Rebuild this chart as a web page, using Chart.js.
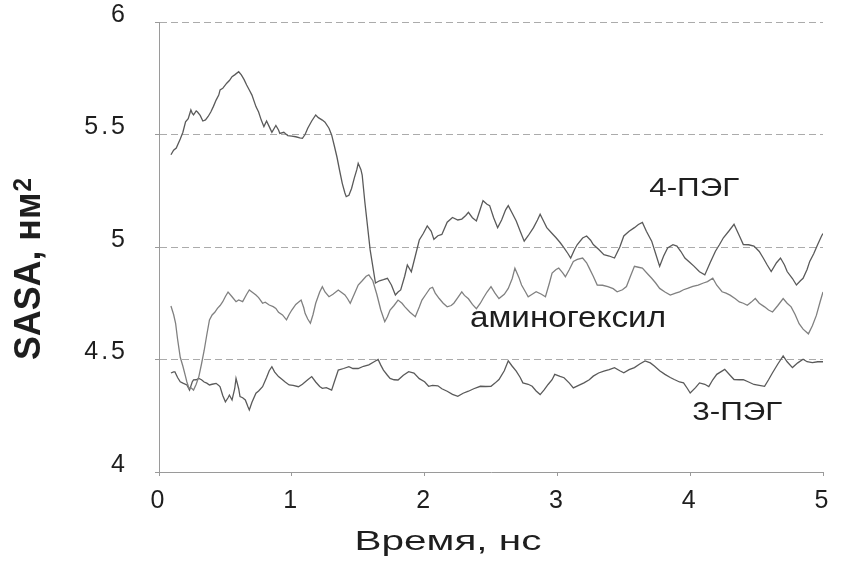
<!DOCTYPE html>
<html>
<head>
<meta charset="utf-8">
<script src="https://cdn.jsdelivr.net/npm/chart.js@4.4.1/dist/chart.umd.min.js"></script>
<style>
  html, body { margin: 0; padding: 0; background: #fff; }
  canvas { display: block; }
</style>
</head>
<body>
<canvas id="chart" width="841" height="565"></canvas>
<script>
// 4-PEG trajectory (time in ns, SASA in nm^2)
const peg4Time = [0.09,0.11,0.13,0.16,0.18,0.20,0.22,0.24,0.25,0.26,0.28,0.29,0.31,0.33,0.35,0.37,0.39,0.41,0.43,0.45,
  0.46,0.48,0.51,0.53,0.55,0.57,0.60,0.62,0.64,0.66,0.68,0.70,0.73,0.75,0.77,0.79,0.81,0.83,0.85,0.88,
  0.90,0.91,0.94,0.97,1.00,1.03,1.06,1.08,1.10,1.12,1.15,1.18,1.20,1.23,1.25,1.28,1.30,1.32,1.34,1.36,
  1.38,1.40,1.41,1.43,1.45,1.47,1.49,1.50,1.52,1.53,1.55,1.59,1.63,1.66,1.69,1.72,1.75,1.78,1.80,1.82,
  1.85,1.87,1.90,1.93,1.96,1.99,2.02,2.05,2.07,2.10,2.13,2.17,2.21,2.25,2.28,2.31,2.33,2.36,2.39,2.42,
  2.44,2.47,2.49,2.52,2.55,2.58,2.61,2.63,2.66,2.69,2.72,2.75,2.78,2.82,2.85,2.87,2.90,2.92,2.96,2.99,
  3.02,3.05,3.08,3.10,3.13,3.15,3.19,3.22,3.25,3.27,3.31,3.35,3.39,3.43,3.47,3.50,3.54,3.58,3.61,3.64,
  3.67,3.71,3.74,3.77,3.80,3.83,3.87,3.90,3.93,3.96,4.00,4.03,4.07,4.11,4.15,4.19,4.22,4.25,4.29,4.33,
  4.37,4.40,4.44,4.48,4.52,4.55,4.58,4.61,4.65,4.68,4.71,4.73,4.77,4.80,4.83,4.85,4.88,4.90,4.93,4.96,
  4.99,5.00];
const peg4Sasa = [5.41,5.43,5.44,5.48,5.51,5.556,5.57,5.609,5.595,5.587,5.605,5.60,5.585,5.56,5.565,5.58,5.60,5.625,5.653,5.675,
  5.698,5.705,5.728,5.74,5.757,5.765,5.779,5.765,5.745,5.72,5.698,5.675,5.624,5.60,5.564,5.535,5.56,5.535,5.51,5.54,
  5.52,5.505,5.51,5.495,5.493,5.49,5.485,5.483,5.50,5.528,5.56,5.587,5.575,5.564,5.555,5.528,5.498,5.45,5.40,5.34,
  5.283,5.24,5.224,5.23,5.26,5.305,5.345,5.372,5.345,5.32,5.20,4.987,4.84,4.85,4.855,4.861,4.831,4.787,4.80,4.809,
  4.87,4.92,4.89,4.96,5.031,5.06,5.094,5.07,5.034,5.05,5.056,5.11,5.131,5.12,5.124,5.14,5.154,5.13,5.116,5.17,
  5.206,5.19,5.184,5.13,5.086,5.12,5.165,5.184,5.15,5.116,5.07,5.026,5.05,5.086,5.12,5.146,5.11,5.086,5.06,5.041,
  5.02,4.996,4.97,4.951,4.99,5.011,5.04,5.049,5.03,5.011,4.99,4.966,4.96,4.951,5.00,5.049,5.07,5.086,5.10,5.109,
  5.07,5.026,4.97,4.914,4.96,4.996,5.01,5.004,4.98,4.951,4.93,4.914,4.89,4.876,4.93,4.981,5.01,5.041,5.07,5.101,
  5.05,5.011,5.01,5.004,4.98,4.951,4.92,4.891,4.93,4.951,4.92,4.891,4.86,4.831,4.85,4.861,4.90,4.936,4.97,5.011,
  5.05,5.06];

// aminohexyl trajectory
const aminoTime = [0.09,0.11,0.125,0.14,0.16,0.18,0.20,0.21,0.226,0.24,0.26,0.28,0.30,0.32,0.34,0.36,0.38,0.40,0.42,0.44,
  0.46,0.48,0.50,0.52,0.55,0.58,0.60,0.63,0.66,0.68,0.70,0.73,0.75,0.78,0.80,0.83,0.86,0.88,0.90,0.93,
  0.96,0.98,1.00,1.03,1.07,1.09,1.10,1.12,1.14,1.16,1.18,1.21,1.23,1.25,1.28,1.31,1.35,1.37,1.40,1.42,
  1.44,1.47,1.50,1.53,1.56,1.58,1.61,1.64,1.67,1.70,1.72,1.74,1.77,1.80,1.83,1.85,1.89,1.93,1.96,1.98,
  2.01,2.04,2.06,2.08,2.11,2.14,2.17,2.20,2.22,2.25,2.28,2.30,2.33,2.36,2.39,2.42,2.44,2.47,2.50,2.53,
  2.56,2.60,2.63,2.66,2.68,2.71,2.73,2.76,2.78,2.81,2.84,2.88,2.91,2.94,2.96,2.99,3.01,3.04,3.06,3.09,
  3.12,3.15,3.19,3.22,3.24,3.27,3.30,3.34,3.38,3.42,3.45,3.49,3.52,3.55,3.58,3.61,3.64,3.68,3.71,3.74,
  3.77,3.81,3.85,3.89,3.92,3.95,3.98,4.02,4.06,4.10,4.13,4.17,4.20,4.24,4.27,4.30,4.34,4.37,4.40,4.43,
  4.46,4.49,4.52,4.56,4.59,4.62,4.66,4.70,4.73,4.76,4.79,4.82,4.85,4.89,4.92,4.95,4.98,5.00];
const aminoSasa = [4.738,4.70,4.661,4.59,4.51,4.47,4.424,4.40,4.372,4.375,4.364,4.39,4.424,4.48,4.54,4.61,4.676,4.698,4.71,4.727,
  4.74,4.757,4.78,4.80,4.779,4.757,4.765,4.757,4.79,4.809,4.80,4.787,4.775,4.75,4.755,4.742,4.735,4.727,4.71,4.698,
  4.676,4.70,4.72,4.745,4.764,4.73,4.705,4.68,4.661,4.70,4.75,4.80,4.824,4.80,4.779,4.79,4.809,4.80,4.787,4.77,
  4.75,4.79,4.831,4.85,4.87,4.876,4.85,4.79,4.72,4.668,4.69,4.72,4.74,4.764,4.75,4.735,4.71,4.69,4.733,4.764,
  4.79,4.816,4.821,4.795,4.771,4.75,4.734,4.74,4.75,4.775,4.801,4.785,4.77,4.745,4.726,4.75,4.771,4.80,4.824,4.795,
  4.771,4.79,4.816,4.86,4.906,4.865,4.831,4.80,4.779,4.79,4.801,4.79,4.779,4.84,4.884,4.90,4.906,4.885,4.868,4.90,
  4.936,4.945,4.951,4.93,4.906,4.87,4.831,4.83,4.824,4.815,4.801,4.81,4.824,4.87,4.914,4.91,4.906,4.88,4.861,4.84,
  4.816,4.80,4.786,4.795,4.801,4.81,4.816,4.825,4.831,4.84,4.846,4.861,4.83,4.801,4.795,4.786,4.77,4.756,4.75,4.741,
  4.755,4.771,4.75,4.734,4.72,4.711,4.74,4.771,4.75,4.734,4.70,4.659,4.635,4.614,4.65,4.696,4.76,4.80];

// 3-PEG trajectory
const peg3Time = [0.09,0.11,0.12,0.14,0.16,0.18,0.21,0.23,0.25,0.26,0.28,0.30,0.32,0.34,0.36,0.38,0.40,0.43,0.45,0.46,
  0.48,0.50,0.52,0.53,0.55,0.57,0.58,0.60,0.61,0.63,0.65,0.67,0.68,0.70,0.73,0.75,0.78,0.81,0.83,0.85,
  0.87,0.90,0.93,0.95,0.98,1.01,1.05,1.08,1.12,1.15,1.18,1.21,1.23,1.26,1.30,1.32,1.35,1.39,1.43,1.46,
  1.50,1.54,1.58,1.62,1.65,1.67,1.69,1.72,1.74,1.77,1.80,1.84,1.88,1.92,1.96,2.00,2.03,2.06,2.10,2.13,
  2.17,2.21,2.25,2.29,2.33,2.37,2.42,2.46,2.50,2.53,2.56,2.60,2.63,2.66,2.69,2.72,2.74,2.78,2.81,2.84,
  2.87,2.90,2.93,2.96,2.98,3.02,3.05,3.09,3.12,3.16,3.20,3.24,3.27,3.31,3.35,3.39,3.43,3.47,3.50,3.54,
  3.58,3.62,3.66,3.70,3.73,3.77,3.81,3.85,3.88,3.92,3.95,3.98,4.00,4.04,4.07,4.11,4.14,4.17,4.20,4.23,
  4.26,4.30,4.33,4.37,4.40,4.44,4.48,4.52,4.56,4.59,4.62,4.66,4.70,4.73,4.77,4.81,4.85,4.88,4.92,4.96,
  5.00];
const peg3Sasa = [4.44,4.445,4.445,4.42,4.401,4.395,4.387,4.364,4.40,4.409,4.41,4.416,4.41,4.40,4.395,4.387,4.39,4.394,4.385,4.379,
  4.34,4.312,4.33,4.342,4.32,4.37,4.416,4.37,4.335,4.33,4.32,4.29,4.276,4.31,4.35,4.36,4.379,4.42,4.45,4.468,
  4.445,4.424,4.41,4.40,4.387,4.385,4.379,4.39,4.41,4.424,4.40,4.38,4.372,4.375,4.364,4.40,4.453,4.46,4.468,4.46,
  4.46,4.47,4.476,4.49,4.50,4.475,4.453,4.43,4.416,4.41,4.409,4.43,4.446,4.44,4.415,4.401,4.381,4.385,4.383,4.37,
  4.359,4.345,4.336,4.35,4.359,4.37,4.381,4.38,4.381,4.395,4.411,4.45,4.494,4.47,4.448,4.42,4.396,4.39,4.381,4.36,
  4.344,4.365,4.389,4.41,4.434,4.425,4.419,4.395,4.374,4.385,4.396,4.41,4.426,4.44,4.448,4.455,4.464,4.45,4.441,4.455,
  4.464,4.48,4.494,4.485,4.471,4.45,4.434,4.42,4.411,4.40,4.396,4.37,4.351,4.375,4.396,4.39,4.38,4.41,4.434,4.445,
  4.456,4.43,4.411,4.41,4.41,4.40,4.389,4.385,4.381,4.41,4.441,4.48,4.516,4.49,4.464,4.485,4.501,4.49,4.486,4.49,
  4.49];

const xTicks = [0, 1, 2, 3, 4, 5];
const yTicks = [4, 4.5, 5, 5.5, 6];

// text labels placed in data coordinates
const seriesNotes = [
  { text: '4-ПЭГ', x: 4.03, y: 5.228, size: 26, width: 90 },
  { text: 'аминогексил', x: 3.08, y: 4.644, size: 29, width: 196 },
  { text: '3-ПЭГ', x: 4.355, y: 4.231, size: 26, width: 90 }
];

const FONT = "'Liberation Sans', Arial, Helvetica, sans-serif";
const INK = '#1e1e1e';

function toPoints(times, values) {
  return times.map((t, i) => ({ x: t, y: values[i] }));
}

function drawStretched(ctx, text, cx, baseline, font, width) {
  ctx.font = font;
  const w = ctx.measureText(text).width;
  ctx.save();
  ctx.translate(cx, baseline);
  ctx.scale(width / w, 1);
  ctx.textAlign = 'center';
  ctx.textBaseline = 'alphabetic';
  ctx.fillText(text, 0, 0);
  ctx.restore();
}

const textPlugin = {
  id: 'textPlugin',
  beforeDraw(chart) {
    chart.ctx.letterSpacing = '3px';
  },
  afterDraw(chart) {
    const ctx = chart.ctx;
    const xs = chart.scales.x, ys = chart.scales.y;
    ctx.save();
    ctx.letterSpacing = '0px';
    ctx.fillStyle = INK;

    seriesNotes.forEach(n => {
      drawStretched(ctx, n.text, xs.getPixelForValue(n.x), ys.getPixelForValue(n.y),
        n.size + 'px ' + FONT, n.width);
    });

    // x axis title
    drawStretched(ctx, 'Время, нс', 448, 550, '28px ' + FONT, 187);

    // y axis title with superscript
    const mainFont = 'bold 31px ' + FONT;
    const supFont = 'bold 21px ' + FONT;
    ctx.font = mainFont;
    const w1 = ctx.measureText('SASA, нм').width;
    ctx.font = supFont;
    const w2 = ctx.measureText('2').width;
    ctx.save();
    ctx.translate(40, 360);
    ctx.scale(1.2, 182 / (w1 + w2 + 1));
    ctx.rotate(-Math.PI / 2);
    ctx.textAlign = 'left';
    ctx.textBaseline = 'alphabetic';
    ctx.font = mainFont;
    ctx.fillText('SASA, нм', 0, 0);
    ctx.font = supFont;
    ctx.fillText('2', w1 + 1, -0.716 * (31 - 21));
    ctx.restore();

    ctx.restore();
  }
};

const lineStyle = { borderWidth: 1.3, pointRadius: 0, tension: 0, fill: false };

new Chart(document.getElementById('chart'), {
  type: 'line',
  data: {
    datasets: [
      Object.assign({ label: '4-ПЭГ', data: toPoints(peg4Time, peg4Sasa), borderColor: '#5a5a5a' }, lineStyle),
      Object.assign({ label: 'аминогексил', data: toPoints(aminoTime, aminoSasa), borderColor: '#808080' }, lineStyle),
      Object.assign({ label: '3-ПЭГ', data: toPoints(peg3Time, peg3Sasa), borderColor: '#5a5a5a' }, lineStyle)
    ]
  },
  options: {
    responsive: false,
    animation: false,
    devicePixelRatio: 1,
    layout: { padding: { left: 0, top: 22, right: 18, bottom: 0 } },
    plugins: { legend: { display: false }, tooltip: { enabled: false } },
    scales: {
      x: {
        type: 'linear',
        min: 0,
        max: 5,
        afterFit(scale) {
          scale.height = 93;
          scale.paddingLeft = 0;
          scale.paddingRight = 0;
        },
        afterBuildTicks(scale) { scale.ticks = xTicks.map(v => ({ value: v })); },
        ticks: { color: INK, font: { family: FONT, size: 25 }, padding: 10, maxRotation: 0,
          callback: v => String(v) },
        grid: { drawOnChartArea: false, tickLength: 4, tickColor: '#9a9a9a' },
        border: { color: '#9a9a9a', width: 1 }
      },
      y: {
        min: 4,
        max: 6,
        afterFit(scale) {
          scale.width = 159;
          scale.paddingTop = 0;
          scale.paddingBottom = 0;
        },
        afterBuildTicks(scale) { scale.ticks = yTicks.map(v => ({ value: v })); },
        ticks: { color: INK, font: { family: FONT, size: 25 }, padding: 27, labelOffset: -7,
          callback: v => String(v) },
        grid: {
          color: ctx => ctx.tick && ctx.tick.value === 4 ? 'rgba(0,0,0,0)' : '#ababab',
          tickLength: 4,
          tickColor: '#9a9a9a',
          tickBorderDash: []
        },
        border: { color: '#9a9a9a', width: 1, dash: [7, 4] }
      }
    }
  },
  plugins: [textPlugin]
});
</script>
</body>
</html>
